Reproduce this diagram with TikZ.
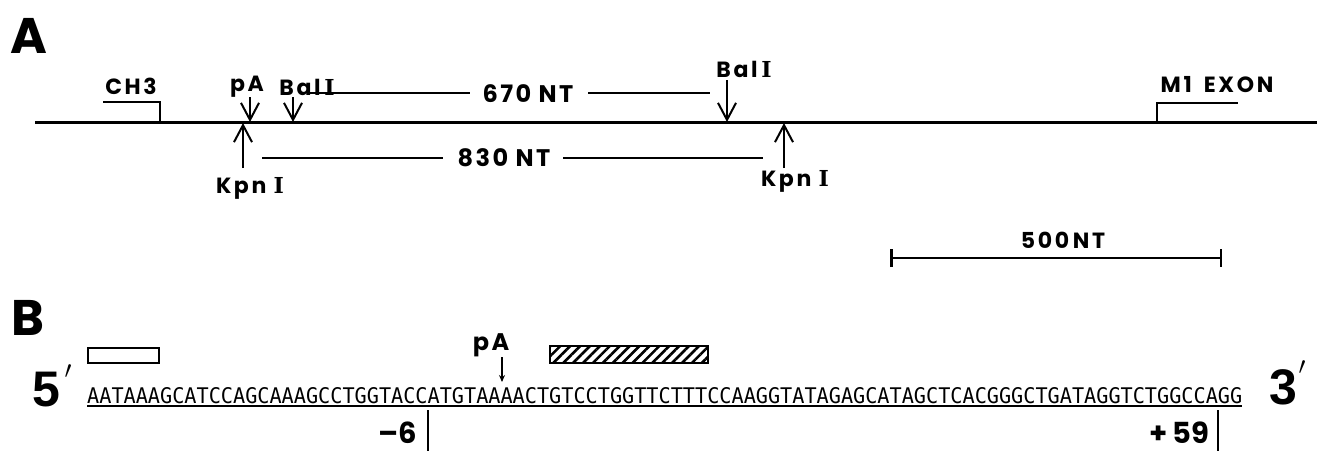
\documentclass[tikz,border=0pt]{standalone}
\usepackage{fontspec}
\setmainfont{Poppins}
\newfontfamily\seqfont{DejaVu Sans Mono}
\newfontfamily\slabfont{DejaVu Serif}
\newfontfamily\endfont{Liberation Sans}
\usetikzlibrary{arrows.meta,patterns.meta}
% Roman numeral I with slab serifs, as in enzyme names
\newcommand{\RomI}{{\slabfont\bfseries\addfontfeature{LetterSpace=0}I}}
\tikzset{
  panel/.style={font=\bfseries\fontsize{50}{50}\selectfont, inner sep=0pt},
  lbl/.style={font=\bfseries\fontsize{22}{22}\selectfont\addfontfeature{LetterSpace=12}, inner sep=0pt},
  lenlbl/.style={font=\bfseries\fontsize{24}{24}\selectfont\addfontfeature{LetterSpace=10}, inner sep=0pt},
  endlbl/.style={font=\endfont\bfseries\fontsize{50}{50}\selectfont, inner sep=0pt},
  primelbl/.style={font=\fontsize{38}{38}\selectfont, inner sep=0pt},
  poslbl/.style={font=\bfseries\fontsize{29}{29}\selectfont, inner sep=0pt, anchor=base, text depth=0pt},
  chrom/.style={line width=3pt},
  span/.style={line width=1.3pt},
  cut/.style={line width=2pt, -{Straight Barb[length=17pt,width=18pt]}},
  exon/.style={line width=2.5pt},
  scalebar/.style={line width=2.5pt, {Bar[width=18pt]}-{Bar[width=18pt]}},
  box/.style={line width=2pt},
  tick/.style={line width=2pt},
}
\begin{document}
\begin{tikzpicture}[x=1pt,y=-1pt]
\useasboundingbox (0,0) rectangle (1317,451);

% ---------- panel A: restriction map ----------
\node[panel] (A) at (29,36) {A};

\coordinate (chrL) at (35,122);
\coordinate (chrR) at (1317,122);
\draw[chrom] (chrL) -- (chrR);

% CH3 exon bracket
\node[lbl] (ch3) at (131,86) {CH3};
\coordinate (ch3a) at (103,102);
\coordinate (ch3b) at (160,102);
\coordinate (ch3c) at (160,122);
\draw[exon] (ch3a) -- (ch3b) -- (ch3c);

% M1 exon bracket
\node[lbl] (m1) at (1217,85) {M1\hspace{0.55em}EXON};
\coordinate (m1a) at (1157,122);
\coordinate (m1b) at (1157,103);
\coordinate (m1c) at (1238,103);
\draw[exon] (m1a) -- (m1b) -- (m1c);

% sites above the line
\node[lbl] (pA) at (247,87) {pA};
\coordinate (pAt) at (250,97);
\coordinate (pAs) at (250,122);
\draw[cut] (pAt) -- (pAs);

\node[lbl] (bal1) at (307,87) {Bal\,\RomI};
\coordinate (bal1t) at (293,97);
\coordinate (bal1s) at (293,122);
\draw[cut] (bal1t) -- (bal1s);

\node[lbl] (bal2) at (744,69) {Bal\,\RomI};
\coordinate (bal2t) at (727,80);
\coordinate (bal2s) at (727,122);
\draw[cut] (bal2t) -- (bal2s);

% sites below the line
\node[lbl] (kpn1) at (250,188) {Kpn \RomI};
\coordinate (kpn1t) at (243,168);
\coordinate (kpn1s) at (243,123);
\draw[cut] (kpn1t) -- (kpn1s);

\node[lbl] (kpn2) at (795,181) {Kpn \RomI};
\coordinate (kpn2t) at (784,168);
\coordinate (kpn2s) at (784,123);
\draw[cut] (kpn2t) -- (kpn2s);

% fragment lengths
\node[lenlbl] (n670) at (528,94) {670 NT};
\coordinate (n670a) at (310,93);
\coordinate (n670b) at (470,93);
\coordinate (n670c) at (588,93);
\coordinate (n670d) at (710,93);
\draw[span] (n670a) -- (n670b);
\draw[span] (n670c) -- (n670d);

\node[lenlbl] (n830) at (504,158) {830 NT};
\coordinate (n830a) at (262,158);
\coordinate (n830b) at (443,158);
\coordinate (n830c) at (563,158);
\coordinate (n830d) at (763,158);
\draw[span] (n830a) -- (n830b);
\draw[span] (n830c) -- (n830d);

% scale bar
\node[lbl] (sc) at (1063,240) {500\,NT};
\coordinate (scL) at (890,258);
\coordinate (scR) at (1222,258);
\draw[scalebar] (scL) -- (scR);

% ---------- panel B: sequence ----------
\node[panel] (B) at (28,318) {B};

\node[endlbl] (five) at (46,390) {5};
\node[primelbl] (fivep) at (68,372) {$\prime$};
\node[endlbl] (three) at (1283,387) {3};
\node[primelbl] (threep) at (1302,368) {$\prime$};

\node[inner sep=0pt, anchor=base west] (seq) at (87,403)
  {\resizebox{1155pt}{16pt}{\seqfont AATAAAGCATCCAGCAAAGCCTGGTACCATGTAAAACTGTCCTGGTTCTTTCCAAGGTATAGAGCATAGCTCACGGGCTGATAGGTCTGGCCAGG}};
\coordinate (ulL) at (87,406);
\coordinate (ulR) at (1242,406);
\draw[line width=1.3pt] (ulL) -- (ulR);

% boxes above the sequence
\node[draw, box, minimum width=71pt, minimum height=15pt, inner sep=0pt] (obox) at (123.5,355.5) {};
\node[draw, box, minimum width=158pt, minimum height=17pt, inner sep=0pt,
      pattern={Lines[angle=45,distance=7pt,line width=2.6pt]}] (hbox) at (629,354.5) {};

% polyadenylation site
\node[lbl, font=\bfseries\fontsize{24}{24}\selectfont\addfontfeature{LetterSpace=10}] (pAB) at (491,345) {pA};
\coordinate (pABt) at (502,357);
\coordinate (pABs) at (502,382);
\draw[line width=1.5pt, -{Stealth[length=7pt,width=6pt]}] (pABt) -- (pABs);

% positions
\node[poslbl] (m6) at (398,443) {–6};
\coordinate (m6t) at (428,410);
\coordinate (m6b) at (428,451);
\draw[tick] (m6t) -- (m6b);

\node[poslbl] (p59) at (1179,443) {+\,59};
\coordinate (p59t) at (1218,410);
\coordinate (p59b) at (1218,451);
\draw[tick] (p59t) -- (p59b);
\end{tikzpicture}
\end{document}
